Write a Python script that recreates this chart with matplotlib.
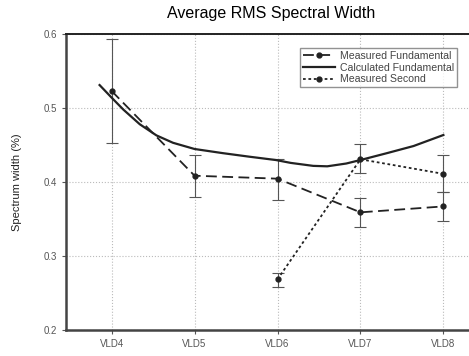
import numpy as np
import matplotlib
matplotlib.use("Agg")
import matplotlib.pyplot as plt

plt.rcParams['font.family'] = ['Liberation Sans', 'DejaVu Sans']

# data
labels = ["VLD4", "VLD5", "VLD6", "VLD7", "VLD8"]
pos = [4, 5, 6, 7, 8]

meas_fund = [0.523, 0.4085, 0.4045, 0.359, 0.367]
meas_fund_lo = [0.453, 0.380, 0.376, 0.339, 0.347]
meas_fund_hi = [0.593, 0.437, 0.431, 0.378, 0.387]

calc_x = [3.855, 4.0, 4.14, 4.34, 4.54, 4.74, 5.0, 5.34, 5.66, 5.98,
          6.16, 6.43, 6.6, 6.83, 7.0, 7.32, 7.64, 8.0]
calc_y = [0.531, 0.514, 0.498, 0.478, 0.463, 0.453, 0.4446, 0.439, 0.4342, 0.4297,
          0.4258, 0.4218, 0.4212, 0.425, 0.4297, 0.439, 0.4486, 0.4635]

sec_x = [6, 7, 8]
meas_sec = [0.2685, 0.4307, 0.411]
meas_sec_lo = [0.2585, 0.412, 0.387]
meas_sec_hi = [0.2775, 0.451, 0.436]

fig = plt.figure(figsize=(4.69, 3.56), dpi=100)
ax = fig.add_axes([66/469, 26/356, 423/469, 296/356])

mf = np.array(meas_fund)
ax.errorbar(pos, mf, yerr=[mf - np.array(meas_fund_lo), np.array(meas_fund_hi) - mf],
            fmt='none', ecolor='#555555', elinewidth=0.8, capsize=4, capthick=0.8)
ms = np.array(meas_sec)
ax.errorbar(sec_x, ms, yerr=[ms - np.array(meas_sec_lo), np.array(meas_sec_hi) - ms],
            fmt='none', ecolor='#555555', elinewidth=0.8, capsize=4, capthick=0.8)

ax.plot(pos, meas_fund, color='#222222', ls=(0, (6, 3)), lw=1.3, marker='o', ms=3.5,
        label='Measured Fundamental')
ax.plot(calc_x, calc_y, color='#222222', ls='-', lw=1.6, label='Calculated Fundamental')
ax.plot(sec_x, meas_sec, color='#222222', ls=(0, (1.5, 1.5)), lw=1.3, marker='o', ms=3.5,
        label='Measured Second')

ax.set_xlim(3.45, 8.55)
ax.set_ylim(0.2, 0.6)
ax.set_xticks(pos)
ax.set_xticklabels(labels)
ax.set_yticks([0.2, 0.3, 0.4, 0.5, 0.6])
ax.set_yticklabels(['0.2', '0.3', '0.4', '0.5', '0.6'])
ax.tick_params(labelsize=7, colors='#555555', length=3, width=0.8)
ax.grid(True, ls=':', color='#bbbbbb', lw=0.8)

for s in ['left', 'bottom']:
    ax.spines[s].set_color('#444444')
    ax.spines[s].set_linewidth(1.8)
ax.spines['top'].set_color('#222222')
ax.spines['top'].set_linewidth(1.4)
ax.spines['right'].set_visible(False)

ax.set_ylabel('Spectrum width (%)', fontsize=8, color='#222222')
ax.yaxis.set_label_coords(-0.104, 0.5)
fig.text(0.578, 0.982, 'Average RMS Spectral Width', ha='center', va='top', fontsize=11.5)

leg = ax.legend(loc='upper left', bbox_to_anchor=(0.553, 0.953), fontsize=7.6,
                frameon=True, fancybox=False, handlelength=3.0, borderpad=0.3,
                labelspacing=0.15, handletextpad=0.45, borderaxespad=0)
leg.get_frame().set_edgecolor('#777777')
leg.get_frame().set_linewidth(1.0)
for t in leg.get_texts():
    t.set_color('#444444')

fig.savefig('out.png', dpi=100)
